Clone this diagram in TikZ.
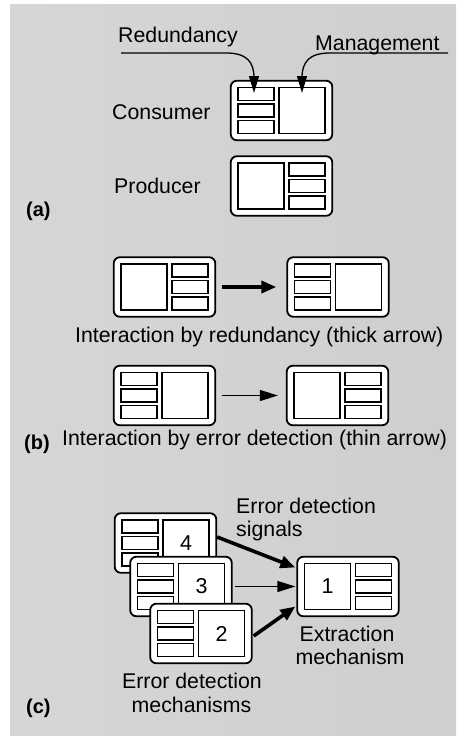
\documentclass[tikz,border=0pt]{standalone}
\usepackage{fontspec}
\setmainfont{Liberation Sans}
\usetikzlibrary{arrows.meta}

\tikzset{
  outerbox/.style={draw, fill=white, line width=1.8pt, rounded corners=6pt,
    minimum width=101.5pt, minimum height=59.5pt, inner sep=0pt},
  cell/.style={draw, fill=white, line width=1.5pt},
  bigcell/.style={cell, minimum width=46.4pt, minimum height=46.4pt, inner sep=0pt,
    font=\fontsize{21.5}{24}\selectfont},
  lbl/.style={inner sep=0pt, font=\fontsize{21.3}{24}\selectfont},
  tag/.style={inner sep=0pt, font=\bfseries\fontsize{20}{22}\selectfont},
  feed/.style={line width=1.3pt, -{Triangle[length=17pt,width=10pt]}},
  thickflow/.style={line width=3.6pt, -{Triangle[length=15pt,width=12pt]}},
  thinflow/.style={line width=1.3pt, -{Triangle[length=18pt,width=11pt]}},
  % module with the switch column on the left
  pics/modL/.style={code={
    \node[outerbox] (-box) at (0,0) {};
    \draw[cell] (-43.7,-23.2) rectangle (-7.3,-10.1);
    \draw[cell] (-43.7,-6.5) rectangle (-7.3,6.5);
    \draw[cell] (-43.7,10.1) rectangle (-7.3,23.2);
    \node[bigcell] (-big) at (20.5,0) {#1};
  }},
  pics/modL/.default={},
  % module with the switch column on the right
  pics/modR/.style={code={
    \node[outerbox] (-box) at (0,0) {};
    \draw[cell] (7.3,-23.2) rectangle (43.7,-10.1);
    \draw[cell] (7.3,-6.5) rectangle (43.7,6.5);
    \draw[cell] (7.3,10.1) rectangle (43.7,23.2);
    \node[bigcell] (-big) at (-20.5,0) {#1};
  }},
  pics/modR/.default={},
}

\begin{document}
\begin{tikzpicture}[x=1pt, y=-1pt]
  \useasboundingbox (0,0) rectangle (456,736);
  \shade[left color=black!16, middle color=white, right color=black!19]
    (10,4) rectangle (456,736);

  % (a) consumer and producer
  \pic (cons) at (281.5,110.5) {modL};
  \pic (prod) at (281.5,186) {modR};
  \node[lbl, anchor=base west] (tred) at (118,42) {Redundancy};
  \node[lbl, anchor=base west] (tman) at (315,50) {Management};
  \node[lbl, anchor=base west] (tcons) at (112,119) {Consumer};
  \node[lbl, anchor=base west] (tprod) at (114,193) {Producer};
  \node[tag, anchor=base west] (ta) at (26,216) {(a)};
  \coordinate (redfrom) at (121,53);
  \coordinate (manfrom) at (448,53);
  \coordinate (redto) at (254,93);
  \coordinate (manto) at (302,93);
  \draw[feed] (redfrom) -- (226,53) .. controls (247,53) and (254,62) .. (254,78) -- (redto);
  \draw[feed] (manfrom) -- (330,53) .. controls (309,53) and (302,62) .. (302,78) -- (manto);

  % (b) interactions
  \pic (b1) at (164.5,287) {modR};
  \pic (b2) at (338,287) {modL};
  \draw[thickflow, shorten <=6pt, shorten >=10pt] (b1-box.east) -- (b2-box.west);
  \node[lbl, anchor=base west] (tb1) at (75,342) {Interaction by redundancy (thick arrow)};
  \pic (b3) at (164.5,395.5) {modL};
  \pic (b4) at (337.5,395.5) {modR};
  \draw[thinflow, shorten <=6pt, shorten >=8pt] (b3-box.east) -- (b4-box.west);
  \node[lbl, anchor=base west] (tb2) at (62,445) {Interaction by error detection (thin arrow)};
  \node[tag, anchor=base west] (tb) at (24,449) {(b)};

  % (c) detection mechanisms feeding the extraction mechanism
  \pic (c4) at (165.5,543) {modL=4};
  \pic (c3) at (181,586.5) {modL=3};
  \pic (c2) at (201,633.5) {modL=2};
  \pic (c1) at (348,586.5) {modR=1};
  \draw[thickflow] ([yshift=6pt]c4-box.east) -- ([xshift=-1pt,yshift=19pt]c1-box.west);
  \draw[thinflow] ([xshift=2pt]c3-box.east) -- ([xshift=-1pt]c1-box.west);
  \draw[thickflow] ([xshift=1pt,yshift=-2.5pt]c2-box.east) -- ([xshift=-1pt,yshift=-20pt]c1-box.west);
  \node[lbl, anchor=base west] (tsig1) at (236,513) {Error detection};
  \node[lbl, anchor=base west] (tsig2) at (236,536) {signals};
  \node[lbl, anchor=base] (text1) at (347,641) {Extraction};
  \node[lbl, anchor=base] (text2) at (350,664) {mechanism};
  \node[lbl, anchor=base] (tmech1) at (192,688) {Error detection};
  \node[lbl, anchor=base] (tmech2) at (191.5,712) {mechanisms};
  \node[tag, anchor=base west] (tc) at (26,713) {(c)};
\end{tikzpicture}
\end{document}
